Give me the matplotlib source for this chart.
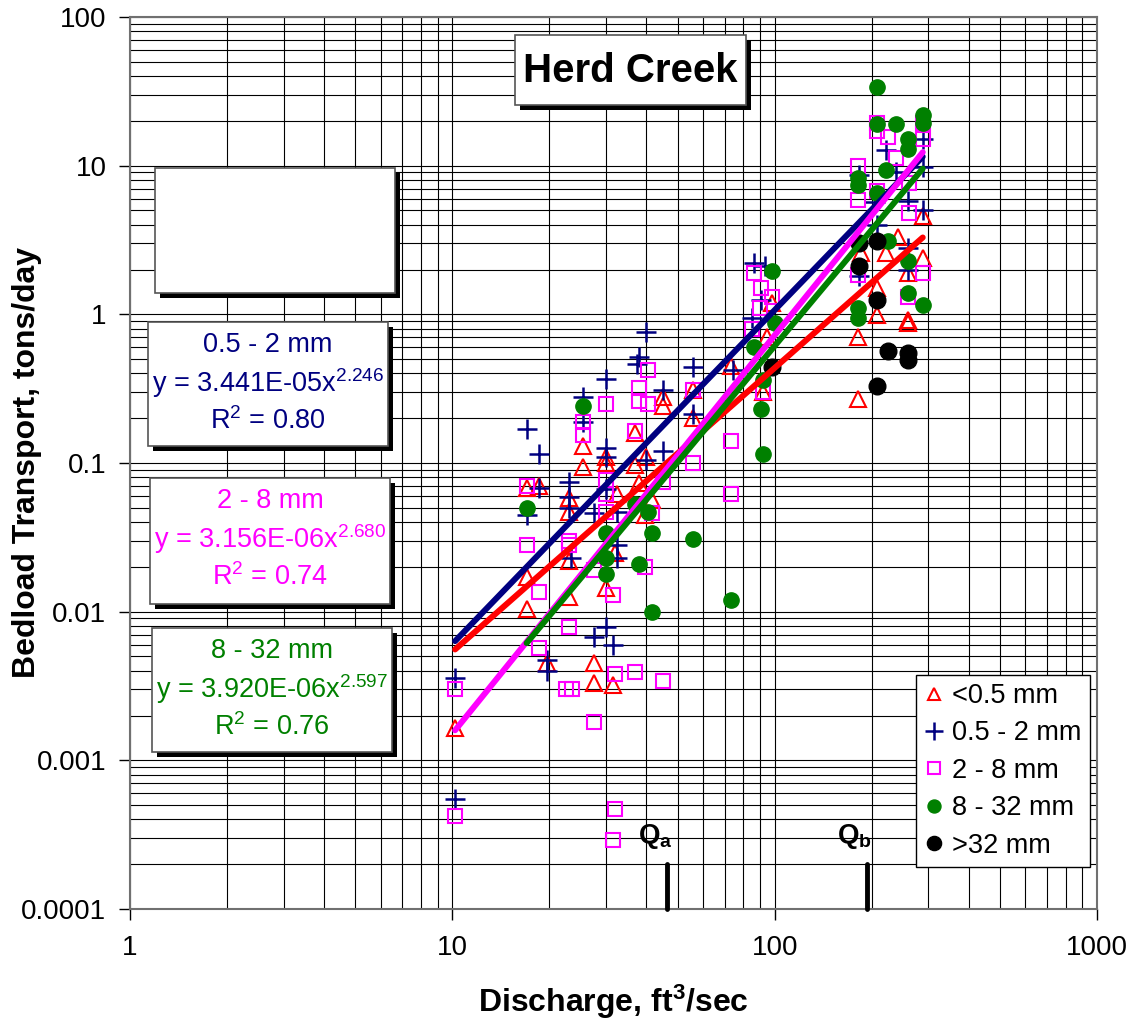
import matplotlib
matplotlib.use("Agg")
import numpy as np
import matplotlib.pyplot as plt
from matplotlib.patches import Rectangle

plt.rcParams['font.family'] = ['Liberation Sans', 'DejaVu Sans']
plt.rcParams['mathtext.fontset'] = 'custom'
plt.rcParams['mathtext.rm'] = 'Liberation Sans'
plt.rcParams['mathtext.it'] = 'Liberation Sans'
plt.rcParams['mathtext.bf'] = 'Liberation Sans:bold'

# ---- data (discharge ft3/s, bedload tons/day) ----
fine_x = [10.2, 17, 17, 17, 18.6, 19.7, 23, 23, 23, 23, 25.5, 25.5, 27.5, 27.5,
          30, 30, 30, 31.5, 32, 32.5, 37, 37, 38, 39.5, 40, 41.5, 45, 45, 56, 56,
          73, 92, 95, 98, 182, 182, 185, 208, 208, 222, 242, 260, 260, 260, 288, 288]
fine_y = [0.00165, 0.068, 0.017, 0.0105, 0.070, 0.0045, 0.058, 0.047, 0.022, 0.0125,
          0.13, 0.094, 0.0045, 0.0033, 0.11, 0.10, 0.0145, 0.0032, 0.025, 0.062,
          0.16, 0.097, 0.073, 0.045, 0.11, 0.056, 0.28, 0.24, 0.31, 0.20,
          0.45, 0.30, 0.70, 1.2, 0.70, 0.27, 2.6, 1.5, 0.99, 2.6, 3.3, 0.87, 0.92,
          1.9, 2.4, 4.6]

sand_x = [10.2, 10.2, 17, 17, 18.6, 18.6, 19.7, 19.7, 23, 23, 23, 23.3, 25.5, 25.5,
          27.5, 27.5, 30, 30, 30, 30, 30, 31.5, 32.5, 32.5, 32.5, 37.5, 38, 40, 40,
          45, 45, 56, 56, 74, 85, 86, 91, 93, 183, 183, 205, 208, 222, 238, 260,
          260, 260, 288, 288, 288]
sand_y = [0.0036, 0.00055, 0.17, 0.045, 0.115, 0.068, 0.0047, 0.0040, 0.075, 0.059,
          0.050, 0.023, 0.28, 0.19, 0.046, 0.0068, 0.37, 0.126, 0.11, 0.067, 0.0079,
          0.0060, 0.047, 0.028, 0.023, 0.46, 0.52, 0.76, 0.105, 0.31, 0.12, 0.44,
          0.215, 0.42, 0.95, 2.2, 1.25, 2.1, 8.6, 1.8, 5.7, 4.0, 12.7, 9.1, 5.8,
          2.8, 2.0, 15, 9.8, 5.0]

fgrav_x = [10.2, 10.2, 17, 17, 18.6, 18.6, 22.5, 23, 23, 23, 23.5, 25.5, 25.5, 27.5,
           27.5, 30, 30, 30, 30, 31.5, 31.5, 32, 32, 37, 37, 38, 38, 39.5, 40.5,
           40.5, 41.5, 45, 45, 56, 56, 73, 73, 85, 86, 90, 91, 92, 98, 182, 182,
           182, 208, 208, 208, 225, 238, 262, 262, 260, 288, 288, 288]
fgrav_y = [0.0030, 0.00042, 0.07, 0.028, 0.0135, 0.0057, 0.0030, 0.030, 0.028,
           0.0079, 0.0030, 0.19, 0.155, 0.019, 0.0018, 0.25, 0.077, 0.062, 0.047,
           0.013, 0.00029, 0.0038, 0.00047, 0.165, 0.0039, 0.32, 0.26, 0.020, 0.42,
           0.25, 0.046, 0.074, 0.0034, 0.31, 0.10, 0.14, 0.062, 0.80, 1.9, 1.1, 1.5,
           0.30, 1.3, 10, 5.9, 1.85, 19.5, 17, 6.8, 15.5, 11.2, 7.6, 4.8, 1.3, 19.5,
           15, 1.9]

cgrav_x = [17, 25.5, 30, 30, 30, 37, 38, 40.5, 41.5, 41.5, 56, 73, 86, 91, 92, 92,
           98, 100, 182, 182, 182, 182, 208, 208, 208, 222, 225, 238, 260, 260, 260,
           260, 288, 288, 288]
cgrav_y = [0.05, 0.24, 0.034, 0.023, 0.018, 0.053, 0.021, 0.047, 0.034, 0.010,
           0.031, 0.012, 0.6, 0.23, 0.36, 0.115, 1.95, 0.87, 8.3, 7.4, 1.1, 0.95,
           34, 19, 6.5, 9.4, 3.1, 19, 15, 13, 2.3, 1.4, 22, 19.5, 1.15]

cobble_x = [98, 183, 183, 208, 208, 208, 225, 260, 260]
cobble_y = [0.44, 3.0, 2.1, 3.1, 1.24, 0.33, 0.57, 0.55, 0.49]

series_labels = ['<0.5 mm', '0.5 - 2 mm', '2 - 8 mm', '8 - 32 mm', '>32 mm']

# power-law trend lines y = a * x^b
fit_coef = [6.6e-5, 3.441e-5, 3.156e-6, 3.920e-6]
fit_exp = [1.91, 2.246, 2.680, 2.597]
fit_xmin = [10.2, 10.2, 10.2, 17]
fit_xmax = [288, 288, 288, 288]

eq_text = [
    ['0.5 - 2 mm', 'y = 3.441E-05x$^{2.246}$', 'R$^{2}$ = 0.80'],
    ['2 - 8 mm', 'y = 3.156E-06x$^{2.680}$', 'R$^{2}$ = 0.74'],
    ['8 - 32 mm', 'y = 3.920E-06x$^{2.597}$', 'R$^{2}$ = 0.76'],
]

q_values = [46.5, 193]
q_labels = [r'Q$_\mathbf{a}$', r'Q$_\mathbf{b}$']

x_ticks = [1, 10, 100, 1000]
x_ticklabels = ['1', '10', '100', '1000']
y_ticks = [0.0001, 0.001, 0.01, 0.1, 1, 10, 100]
y_ticklabels = ['0.0001', '0.001', '0.01', '0.1', '1', '10', '100']

RED, NAVY, MAG, GRN = '#FF0000', '#000080', '#FF00FF', '#008000'

W, H = 1133, 1026
fig = plt.figure(figsize=(W / 100, H / 100), dpi=100)
ax = fig.add_axes([130 / W, 1 - 909 / H, (1097 - 130) / W, (909 - 17) / H])
ax.set_xscale('log')
ax.set_yscale('log')
ax.set_xlim(1, 1000)
ax.set_ylim(0.0001, 100)

ax.grid(True, which='both', color='black', lw=0.8)
ax.set_axisbelow(True)
for s in ax.spines.values():
    s.set_color('#707070')
    s.set_linewidth(1.5)

ax.set_xticks(x_ticks)
ax.set_xticklabels(x_ticklabels)
ax.set_yticks(y_ticks)
ax.set_yticklabels(y_ticklabels)
ax.tick_params(which='major', direction='out', length=8, width=1, labelsize=20, pad=9)
ax.tick_params(axis='x', which='major', pad=11)
ax.tick_params(which='minor', length=0)

ax.plot(fine_x, fine_y, ls='none', marker='^', mfc='none', mec=RED, mew=1.5, ms=11,
        label=series_labels[0], zorder=3)
ax.plot(sand_x, sand_y, ls='none', marker='+', color=NAVY, mew=1.8, ms=15,
        label=series_labels[1], zorder=3)
ax.plot(fgrav_x, fgrav_y, ls='none', marker='s', mfc='none', mec=MAG, mew=1.5, ms=10.5,
        label=series_labels[2], zorder=3)
ax.plot(cgrav_x, cgrav_y, ls='none', marker='o', color=GRN, ms=11,
        label=series_labels[3], zorder=3)
ax.plot(cobble_x, cobble_y, ls='none', marker='o', color='black', ms=12,
        label=series_labels[4], zorder=3)

fit_colors = [RED, NAVY, MAG, GRN]
for a, b, x0, x1, c in zip(fit_coef, fit_exp, fit_xmin, fit_xmax, fit_colors):
    xs = np.geomspace(x0, x1, 60)
    ax.plot(xs, a * xs ** b, color=c, lw=4.3, solid_capstyle='round', zorder=4)

for q, lab in zip(q_values, q_labels):
    ax.plot([q, q], [0.0001, 0.000201], color='black', lw=3.5, zorder=5,
            solid_capstyle='round', clip_on=False)
    ax.text(q * 0.915, 0.000278, lab, ha='center', va='baseline', fontsize=20,
            fontweight='bold', zorder=5)

ax.set_xlabel(r'Discharge, ft$^\mathbf{3}$/sec', fontsize=23, fontweight='bold')
ax.set_ylabel('Bedload Transport, tons/day', fontsize=23, fontweight='bold')
ax.xaxis.set_label_coords(0.5, -0.083)
ax.yaxis.set_label_coords(-0.091, 0.5)

leg = ax.legend(loc='upper right', bbox_to_anchor=(1090 / W, 1 - 675 / H),
                bbox_transform=fig.transFigure, borderaxespad=0, fontsize=19.5,
                frameon=True, fancybox=False, edgecolor='black', framealpha=1,
                handlelength=0.7, handletextpad=0.35, labelspacing=0.42,
                borderpad=0.3, markerscale=0.85)
leg.get_frame().set_linewidth(1.0)
leg.set_zorder(20)


def fig_box(l, t, r, b):
    sh = Rectangle(((l + 5) / W, 1 - (b + 5) / H), (r - l) / W, (b - t) / H,
                   transform=fig.transFigure, facecolor='black', edgecolor='none', zorder=10)
    bx = Rectangle((l / W, 1 - b / H), (r - l) / W, (b - t) / H,
                   transform=fig.transFigure, facecolor='white', edgecolor='#555555',
                   lw=1.2, zorder=11)
    fig.patches.extend([sh, bx])


# title box
fig_box(515, 35, 746, 105)
fig.text((515 + 746) / 2 / W, 1 - 71 / H, 'Herd Creek', ha='center', va='center',
         fontsize=29, fontweight='bold', zorder=12)

# empty box
fig_box(155, 168, 395, 293)

boxes = [(148, 322, 388, 446), (150, 478, 390, 604), (152, 628, 392, 752)]
box_colors = [NAVY, MAG, GRN]
for (l, t, r, b), lines, c in zip(boxes, eq_text, box_colors):
    fig_box(l, t, r, b)
    cx = (l + r) / 2 / W
    for i, s in enumerate(lines):
        fig.text(cx, 1 - (t + 23 + 38 * i) / H, s, ha='center', va='center',
                 fontsize=19.5, color=c, zorder=12)

fig.savefig('out.png', dpi=100)
